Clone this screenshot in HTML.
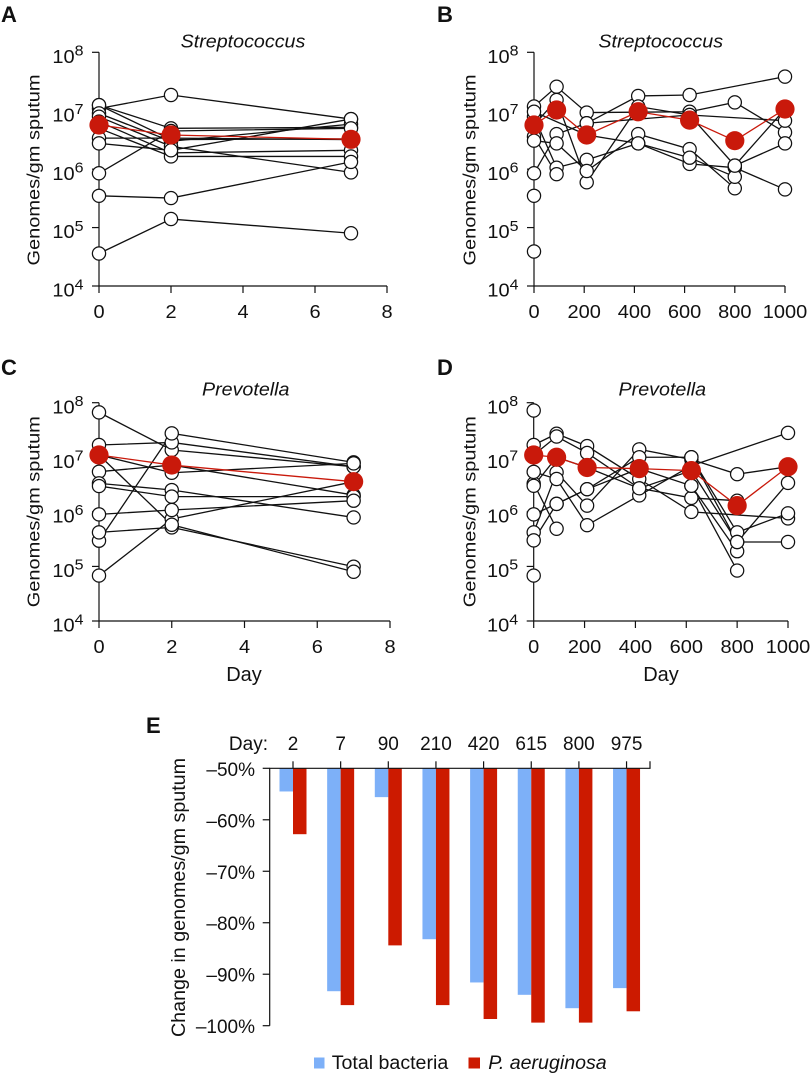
<!DOCTYPE html>
<html lang="en">
<head>
<meta charset="utf-8">
<title>Genomes per gm sputum</title>
<style>
html,body{margin:0;padding:0;background:#fff}
svg{display:block;font-family:"Liberation Sans",Arial,sans-serif;fill:#111}
.letter{font-weight:bold;font-size:22px}
.title{font-style:italic;font-size:19.7px;text-anchor:middle}
.tick{font-size:20px}
.ax{font-size:20px;text-anchor:middle}
.etick{font-size:19px}
</style>
</head>
<body>
<svg id="fig" width="812" height="1074" viewBox="0 0 812 1074" xmlns="http://www.w3.org/2000/svg">
<text class="letter" x="1" y="22">A</text>
<text class="letter" x="437" y="22">B</text>
<text class="letter" x="1" y="375">C</text>
<text class="letter" x="437" y="375">D</text>
<text class="letter" x="146" y="733">E</text>
<text class="title" transform="translate(243,47.7) scale(1,.92)">Streptococcus</text>
<text class="title" transform="translate(660.7,47.7) scale(1,.92)">Streptococcus</text>
<text class="title" transform="translate(245.7,395.7) scale(1,.92)">Prevotella</text>
<text class="title" transform="translate(662.3,395.7) scale(1,.92)">Prevotella</text>
<text class="ax" transform="translate(39.5,170) rotate(-90) scale(1,.88)">Genomes/gm sputum</text>
<text class="ax" transform="translate(475.5,170) rotate(-90) scale(1,.88)">Genomes/gm sputum</text>
<text class="ax" transform="translate(39.5,511.7) rotate(-90) scale(1,.88)">Genomes/gm sputum</text>
<text class="ax" transform="translate(475.5,511.7) rotate(-90) scale(1,.88)">Genomes/gm sputum</text>
<text class="ax" x="244" y="681">Day</text>
<text class="ax" x="661" y="681">Day</text>
<text class="ax" style="font-size:19.7px" transform="translate(185,897.5) rotate(-90)">Change in genomes/gm sputum</text>
<text class="etick" x="268" y="750" text-anchor="end">Day:</text>
<rect x="314" y="1057.5" width="10.5" height="11" fill="#7db0f8"/>
<text x="331.7" y="1069" style="font-size:19.6px">Total bacteria</text>
<rect x="468.5" y="1057.5" width="11.5" height="11" fill="#cc1a00"/>
<text x="488.3" y="1069" style="font-size:19.6px;font-style:italic">P. aeruginosa</text>
</svg>
<script>
var yExponents = [8, 7, 6, 5, 4];

var aDays = [0, 2, 7];
var aTicks = [0, 2, 4, 6, 8];
var aSubjects = [
  [1.09e7, 1.86e7, 7.2e6],
  [1.25e7, 5e6, 5.2e6],
  [1.25e7, 3.2e6, 3.3e6],
  [9e6, 3e6, 5.9e6],
  [7.9e6, 2.45e6, 8.8e5],
  [6.5e6, 1.9e6, 2.1e6],
  [5e6, 1.65e6, 1.65e6],
  [3.4e6, 3.4e6, 3.2e6],
  [2.76e6, 2.1e6, 7.2e6],
  [8.5e5, 4.5e6, 5e6],
  [3.5e5, 3.2e5, 1.33e6],
  [3.6e4, 1.4e5, 8e4]
];
var aMean = [5.7e6, 3.84e6, 3.24e6];

var bDays = [0, 90, 210, 415, 620, 800, 1000];
var bTicks = [0, 200, 400, 600, 800, 1000];
var bSubjects = [
  [1.18e7, 2.58e7, 9.3e6, null, 9.6e6, 1.39e7, 4.26e6],
  [8.5e5, 3.98e6, 6.1e6, 1.79e7, 1.86e7, null, 3.83e7],
  [7.9e6, 1.06e6, 1.44e6, 2.76e6, 1.23e6, 1.06e6, 4.5e5],
  [3.6e6, 8.2e5],
  [5.7e6, 1.53e7, 5.95e5, 1.18e7, 8.45e6, 1.15e6, 1.07e7],
  [3.07e6, 2.76e6, 9.3e5, 3.98e6, 2.2e6, 4.7e5],
  [9.6e6, null, 3.84e6, 2.76e6, 1.57e6, 7.4e5],
  [3.5e5],
  [3.9e4],
  [null, null, 6.1e6, null, 8.45e6, null, 6.75e6],
  [null, null, null, null, null, 1.15e6, 2.76e6]
];
var bMean = [5.7e6, 1.03e7, 3.84e6, 9.6e6, 6.9e6, 3.07e6, 1.07e7];

var cDays = [0, 2, 7];
var cTicks = [0, 2, 4, 6, 8];
var cSubjects = [
  [6.65e7, 1.36e7, 6.7e6],
  [1.68e7, 1.87e7, 6.7e6],
  [2.96e5, 2.74e7, 8.07e6],
  [6.8e4, 7.4e5, 3.57e6],
  [4.2e5, 5.2e5, 9.9e4],
  [1.1e7, 5.2e6, 7.74e6],
  [1.1e7, 5.8e5, 8e4],
  [5.44e6, 7.2e6, 2.03e6],
  [3.33e6, 2.51e6, 7.9e5],
  [2.97e6, 1.9e6, 1.9e6],
  [9e5, 1.08e6, 1.6e6]
];
var cMean = [1.1e7, 7.2e6, 3.57e6];

var dDays = [0, 90, 210, 415, 620, 800, 1000];
var dTicks = [0, 200, 400, 600, 800, 1000];
var dSubjects = [
  [1.68e7, 2.7e7, 1.6e7, 4e6, 1e6, null, 7.6e5],
  [7.2e7],
  [1.1e7, 2.4e7, 1.2e7, 2.7e6, 1.8e6, 1.6e6],
  [4.2e5, 5.3e6, 1.3e6, 1.4e7, 9.1e6, 4.9e6, 6.7e6],
  [3e5, 1.4e6, 2.6e6, 1e7, 1e7, 4.2e5, 9.4e5],
  [9e5, 1.4e6, 2.6e6, 6.2e6, 3e6, 1.9e5],
  [3.3e6, 4.9e5],
  [5.4e6, 4e6, 5.7e5, 2e6, 7e6, null, 2.8e7],
  [3e6, 1e7, 6.5e6, 2.7e6, 5.7e6, 2.8e5, 3.4e6],
  [6.8e4],
  [null, null, null, null, 3e6, 8.4e4],
  [null, null, null, null, 1e7, 2.8e5, 2.8e5]
];
var dMean = [1.1e7, 1e7, 6.5e6, 6.2e6, 5.7e6, 1.3e6, 6.7e6];

var eDays = ['2', '7', '90', '210', '420', '615', '800', '975'];
var eTotalBacteria = [-54.5, -93.3, -55.6, -83.2, -91.6, -94, -96.6, -92.7];
var ePAeruginosa = [-62.8, -96, -84.4, -96, -98.7, -99.4, -99.4, -97.2];
var ePercentTicks = [-50, -60, -70, -80, -90, -100];

var NS = 'http://www.w3.org/2000/svg';
var INK = '#111';
var RED = '#c9190b';
var fig = document.getElementById('fig');

function make(tag, parent, attrs, text) {
  var el = document.createElementNS(NS, tag);
  for (var k in attrs) el.setAttribute(k, attrs[k]);
  if (text !== undefined) el.textContent = text;
  parent.appendChild(el);
  return el;
}

function drawPanel(id, box, days, ticks, subjects, mean) {
  var g = make('g', fig, {});
  
  
  function xScale(d) { return box.x0 + (d - ticks[0]) / (ticks[ticks.length - 1] - ticks[0]) * (box.x1 - box.x0); }
  function yScale(v) { return box.yTop + (8 - Math.log10(v)) / 4 * (box.yBot - box.yTop); }

  var axis = make('path', g, {
    d: 'M' + box.x0 + ' ' + box.yTop + 'V' + box.yBot + 'H' + box.x1,
    fill: 'none', stroke: INK, 'stroke-width': 1.2
  });
  
  

  yExponents.forEach(function (e) {
    var y = yScale(Math.pow(10, e));
    var t = make('line', g, { x1: box.x0 - 7, x2: box.x0, y1: y, y2: y, stroke: INK, 'stroke-width': 1.2 });
    
    
    var label = make('text', g, { class: 'tick', transform: 'translate(' + (box.x0 - 15.5) + ',' + (y + 10.6) + ') scale(1,.92)', 'text-anchor': 'end' });
    
    
    make('tspan', label, {}, '10');
    make('tspan', label, { dy: -8, 'font-size': 16 }, String(e));
  });

  ticks.forEach(function (v) {
    var x = xScale(v);
    var t = make('line', g, { x1: x, x2: x, y1: box.yBot, y2: box.yBot + 7, stroke: INK, 'stroke-width': 1.2 });
    
    
    var label = make('text', g, { class: 'tick', transform: 'translate(' + x + ',' + (box.yBot + 32) + ') scale(1,.92)', 'text-anchor': 'middle' }, String(v));
    
    
  });

  function pathFor(series) {
    var d = '';
    series.forEach(function (v, i) {
      if (v === null) return;
      d += (d ? 'L' : 'M') + xScale(days[i]).toFixed(2) + ' ' + yScale(v).toFixed(2);
    });
    return d;
  }

  subjects.forEach(function (s) {
    var l = make('path', g, { d: pathFor(s), fill: 'none', stroke: INK, 'stroke-width': 1.3 });
    
    
  });
  subjects.forEach(function (s) {
    s.forEach(function (v, i) {
      if (v === null) return;
      var c = make('circle', g, { cx: xScale(days[i]), cy: yScale(v), r: 6.6, fill: '#fff', stroke: INK, 'stroke-width': 1.25 });
      
      
    });
  });

  var ml = make('path', g, { d: pathFor(mean), fill: 'none', stroke: RED, 'stroke-width': 1.3 });
  
  
  mean.forEach(function (v, i) {
    var c = make('circle', g, { cx: xScale(days[i]), cy: yScale(v), r: 9.6, fill: RED });
    
    
  });
}

drawPanel('a', { x0: 99, x1: 387, yTop: 52.3, yBot: 286 }, aDays, aTicks, aSubjects, aMean);
drawPanel('b', { x0: 534, x1: 785, yTop: 52.3, yBot: 286 }, bDays, bTicks, bSubjects, bMean);
drawPanel('c', { x0: 99, x1: 390, yTop: 402.7, yBot: 621 }, cDays, cTicks, cSubjects, cMean);
drawPanel('d', { x0: 533.7, x1: 788, yTop: 402.7, yBot: 621 }, dDays, dTicks, dSubjects, dMean);

(function drawBars() {
  var g = make('g', fig, {});
  
  
  var left = 269.7, right = 650, top = 768.3, bottom = 1025.7;
  var first = 293, step = 47.65, barW = 13.5;
  function yScale(p) { return top + (-50 - p) / 50 * (bottom - top); }
  function xScale(i) { return first + i * step; }

  eTotalBacteria.forEach(function (v, i) {
    var b = make('rect', g, { x: xScale(i) - barW, y: top, width: barW, height: yScale(v) - top, fill: '#7db0f8' });
    
    
  });
  ePAeruginosa.forEach(function (v, i) {
    var b = make('rect', g, { x: xScale(i), y: top, width: barW, height: yScale(v) - top, fill: '#cc1a00' });
    
    
  });

  var axis = make('path', g, {
    d: 'M' + left + ' ' + bottom + 'V' + top + 'H' + right + 'v-7',
    fill: 'none', stroke: INK, 'stroke-width': 1.2
  });
  
  

  eDays.forEach(function (d, i) {
    var x = xScale(i);
    var t = make('line', g, { x1: x, x2: x, y1: top - 7, y2: top, stroke: INK, 'stroke-width': 1.2 });
    
    
    var label = make('text', g, { class: 'etick', x: x, y: 750, 'text-anchor': 'middle' }, d);
    
    
  });

  ePercentTicks.forEach(function (p) {
    var y = yScale(p);
    var t = make('line', g, { x1: left - 7, x2: left, y1: y, y2: y, stroke: INK, 'stroke-width': 1.2 });
    
    
    var label = make('text', g, { class: 'etick', x: 255, y: y + 7.5, 'text-anchor': 'end' }, '\u2013' + Math.abs(p) + '%');
    
    
  });
})();
</script>
</body>
</html>
